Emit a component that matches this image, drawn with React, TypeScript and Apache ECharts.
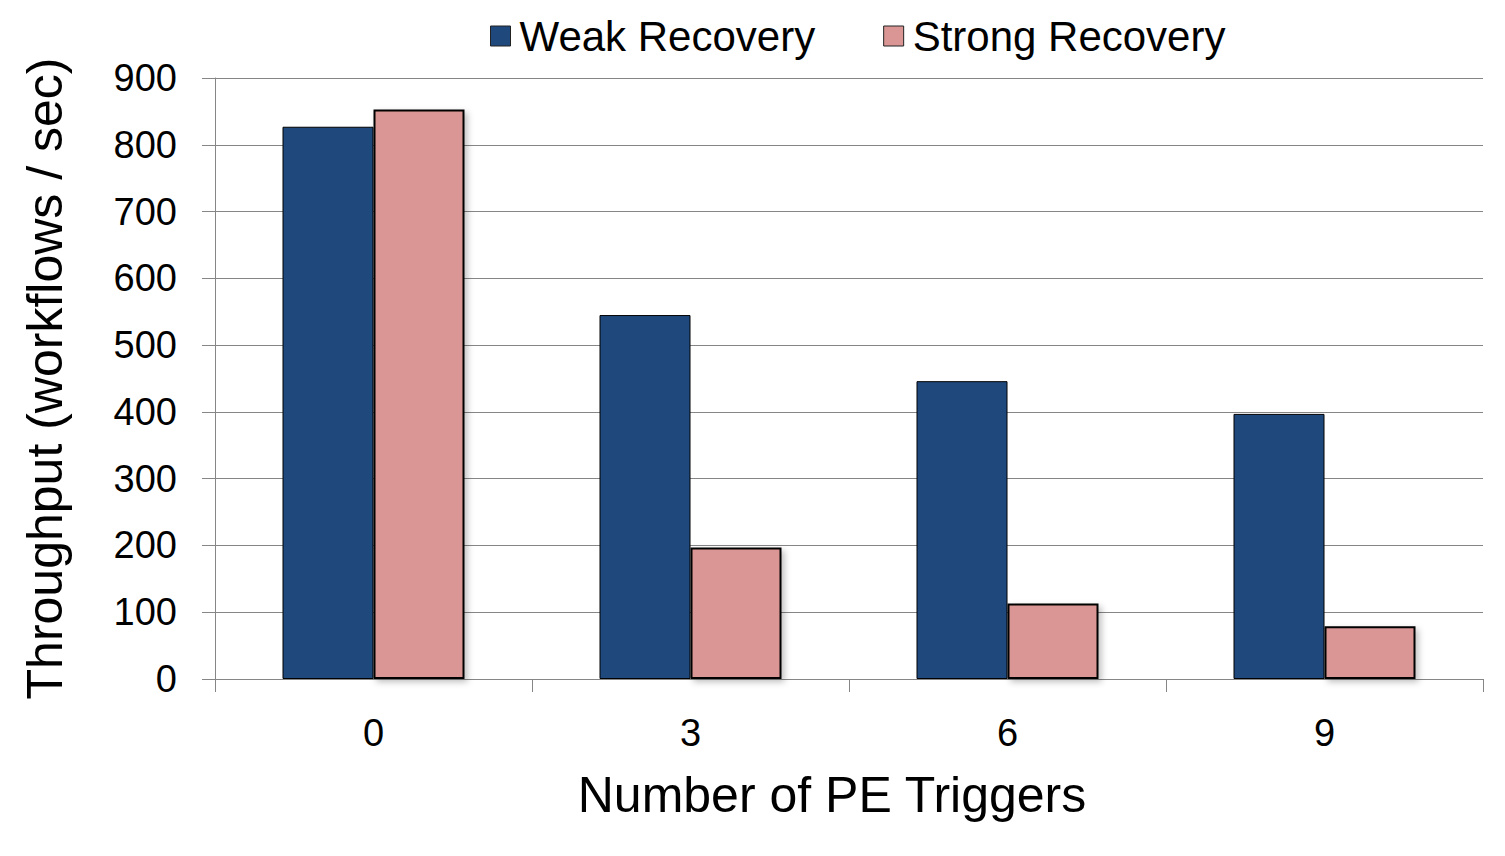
import React, { useEffect, useRef } from "react";
import * as echarts from "echarts";

const categories = ["0", "3", "6", "9"];
const weakRecovery = [827, 545, 446, 397];
const strongRecovery = [853, 197, 113, 79];
const seriesNames = ["Weak Recovery", "Strong Recovery"];
const yAxisTitle = "Throughput (workflows / sec)";
const xAxisTitle = "Number of PE Triggers";

const FONT = "'Liberation Sans', Arial, sans-serif";

export default function App() {
  const ref = useRef<HTMLDivElement>(null);
  useEffect(() => {
    if (!ref.current) return;
    const chart = echarts.init(ref.current, undefined, { renderer: "svg" });
    chart.setOption({
      animation: false,
      backgroundColor: "#ffffff",
      textStyle: { fontFamily: FONT, color: "#000" },
      legend: {
        data: seriesNames,
        left: 485,
        top: 10,
        itemWidth: 20,
        itemHeight: 20,
        itemGap: 68,
        icon: "rect",
        itemStyle: { borderWidth: 1, borderColor: "#222" },
        textStyle: { fontSize: 42, color: "#000", fontFamily: FONT, padding: [0, 0, 0, 4] },
      },
      grid: { left: 215, right: 22, top: 78, bottom: 177, containLabel: false },
      xAxis: {
        type: "category",
        data: categories,
        name: xAxisTitle,
        nameLocation: "middle",
        nameGap: 91,
        nameTextStyle: { fontSize: 50, color: "#000", fontFamily: FONT, padding: [0, 34, 0, 0] },
        axisLine: { show: true, lineStyle: { color: "#868686", width: 1 } },
        axisTick: { show: true, length: 13, alignWithLabel: false, lineStyle: { color: "#868686" } },
        axisLabel: { fontSize: 38, color: "#000", margin: 35, fontFamily: FONT },
      },
      yAxis: {
        type: "value",
        min: 0,
        max: 900,
        interval: 100,
        name: yAxisTitle,
        nameLocation: "middle",
        nameGap: 145,
        nameRotate: 90,
        nameTextStyle: { fontSize: 50, color: "#000", fontFamily: FONT },
        axisLine: { show: true, lineStyle: { color: "#868686", width: 1 } },
        axisTick: { show: true, length: 13, lineStyle: { color: "#868686" } },
        axisLabel: { fontSize: 38, color: "#000", margin: 38, fontFamily: FONT },
        splitLine: { show: true, lineStyle: { color: "#868686", width: 1 } },
      },
      series: [
        {
          name: seriesNames[0],
          type: "bar",
          data: weakRecovery,
          barWidth: 91,
          barGap: "0%",
          itemStyle: { color: "#1F497D", borderColor: "#000", borderWidth: 1 },
        },
        {
          name: seriesNames[1],
          type: "bar",
          data: strongRecovery,
          barWidth: 91,
          barGap: "0%",
          itemStyle: {
            color: "#D99694",
            borderColor: "#000",
            borderWidth: 2,
            shadowBlur: 6,
            shadowColor: "rgba(0,0,0,0.25)",
            shadowOffsetX: 3,
            shadowOffsetY: 3,
          },
        },
      ],
    });
    return () => chart.dispose();
  }, []);
  return (
    <div
      ref={ref}
      style={{ position: "absolute", left: 0, top: 0, width: 1505, height: 856 }}
    />
  );
}
